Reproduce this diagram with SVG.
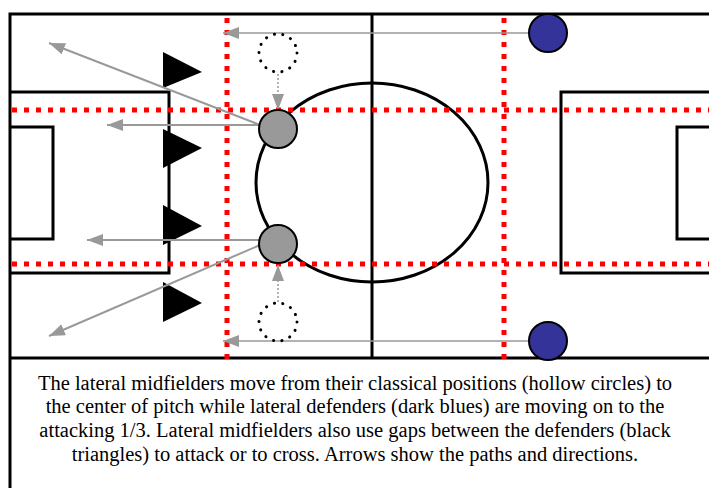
<svg xmlns="http://www.w3.org/2000/svg" width="709" height="488" viewBox="0 0 709 488">
<defs>
<style>
.line{fill:none;stroke:#000;stroke-width:3}
.red{fill:none;stroke:#ff0000;stroke-width:5;stroke-dasharray:5 7}
.arr{fill:none;stroke:#999;stroke-width:2;marker-end:url(#ah)}
.arrt{fill:none;stroke:#999;stroke-width:1.5;marker-end:url(#ah)}
.dot{fill:none;stroke:#999;stroke-width:1.5;stroke-dasharray:2 2;marker-end:url(#ah)}
.mid{fill:#999;stroke:#000;stroke-width:2}
.hol{fill:none;stroke:#000;stroke-width:3;stroke-dasharray:0.1 8.43;stroke-linecap:round}
.def{fill:#333399;stroke:#000;stroke-width:2}
.tri{fill:#000}
.cap{font-family:"Liberation Serif","Times New Roman",serif;font-size:20.5px;fill:#000;text-anchor:middle}
</style>
<marker id="ah" viewBox="0 0 10 10" refX="10" refY="5" markerWidth="16" markerHeight="12" markerUnits="userSpaceOnUse" orient="auto" preserveAspectRatio="none">
<path d="M0,0 L10,5 L0,10 z" fill="#999"/>
</marker>
</defs>
<rect width="709" height="488" fill="#fff"/>
<g id="pitch">
<path class="line" d="M10,488 L10,14 L709,14"/>
<path class="line" d="M10,358 L709,358"/>
<path class="line" d="M372,14 L372,358"/>
<ellipse class="line" cx="372" cy="182.5" rx="116" ry="99.5"/>
<path class="line" d="M10,92 L169,92 L169,273 L10,273"/>
<path class="line" d="M10,127 L53,127 L53,239 L10,239"/>
<path class="line" d="M709,92 L561,92 L561,273 L709,273"/>
<path class="line" d="M709,127 L677,127 L677,239 L709,239"/>
</g>
<g id="zones">
<path class="red" d="M12,110 L709,110"/>
<path class="red" d="M12,264 L709,264"/>
<path class="red" d="M227,18 L227,360"/>
<path class="red" d="M504,18 L504,360"/>
</g>
<g id="defenders">
<polygon class="tri" points="163,52 202,72 163,88"/>
<polygon class="tri" points="163,129 202,148 163,168"/>
<polygon class="tri" points="163,205 202,226 163,245"/>
<polygon class="tri" points="163,282 202,303 163,322"/>
</g>
<g id="connectors">
<path class="arrt" d="M529,33 L223,33"/>
<path class="arrt" d="M529,341 L223,341"/>
<path class="arr" d="M260,125 L49,43"/>
<path class="arr" d="M260,125 L107,125"/>
<path class="arr" d="M260,240 L87,240"/>
<path class="arr" d="M260,245 L49,336"/>
<path class="dot" d="M278,74 L278,110"/>
<path class="dot" d="M278,302 L278,265"/>
</g>
<g id="hollow-top"><circle class="hol" cx="278" cy="53" r="19"/></g>
<g id="hollow-bottom"><circle class="hol" cx="278" cy="322" r="19"/></g>
<g id="mid-top"><circle class="mid" cx="278" cy="129" r="19"/></g>
<g id="mid-bottom"><circle class="mid" cx="278" cy="244" r="19"/></g>
<g id="blue-top"><circle class="def" cx="548" cy="33" r="19"/></g>
<g id="blue-bottom"><circle class="def" cx="548" cy="341" r="19"/></g>
<g id="caption">
<text class="cap" x="355" y="390">The lateral midfielders move from their classical positions (hollow circles) to</text>
<text class="cap" x="355" y="413">the center of pitch while lateral defenders (dark blues) are moving on to the</text>
<text class="cap" x="355" y="437">attacking 1/3. Lateral midfielders also use gaps between the defenders (black</text>
<text class="cap" x="355" y="461">triangles) to attack or to cross. Arrows show the paths and directions.</text>
</g>
</svg>
